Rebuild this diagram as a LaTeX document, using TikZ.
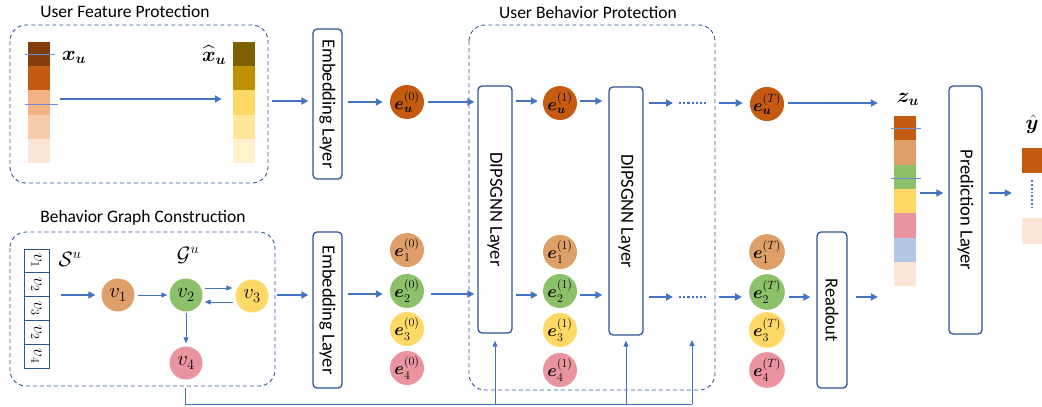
\documentclass[tikz,border=0pt]{standalone}
\usepackage{amsmath}
\usepackage{bm}
\usepackage{fontspec}
\setmainfont{Carlito}
\usetikzlibrary{arrows.meta}
\definecolor{ablue}{HTML}{4472C4}
\definecolor{dblue}{HTML}{2F5597}
\definecolor{tblue}{HTML}{6A8FD2}
\definecolor{ca}{HTML}{843C0C}
\definecolor{cb}{HTML}{C55A11}
\definecolor{cc}{HTML}{F4B183}
\definecolor{cd}{HTML}{F8CBAD}
\definecolor{ce}{HTML}{FBE5D6}
\definecolor{ha}{HTML}{7F6000}
\definecolor{hb}{HTML}{BF9000}
\definecolor{hc}{HTML}{FFD966}
\definecolor{hd}{HTML}{FFE699}
\definecolor{he}{HTML}{FFF2CC}
\definecolor{vor}{HTML}{DF9F68}
\definecolor{vgr}{HTML}{8CC16A}
\definecolor{vye}{HTML}{FFD966}
\definecolor{vpk}{HTML}{EA949F}
\definecolor{vbl}{HTML}{B4C7E7}
\newcommand{\lyrtxt}[1]{\rotatebox{-90}{\fontsize{18.5}{20}\selectfont #1}}
\begin{document}
\begin{tikzpicture}[x=1pt,y=-1pt,
  arr/.style={-{Triangle[length=7pt,width=7pt]}, line width=1.8pt, draw=ablue},
  tarr/.style={-{Triangle[length=6pt,width=5pt]}, line width=1pt, draw=ablue},
  dots/.style={line width=2.2pt, draw=ablue, dash pattern=on 2.2pt off 2pt},
  dbox/.style={draw=dblue, dashed, rounded corners=16pt, line width=0.9pt, dash pattern=on 4pt off 3pt},
  layerbox/.style={draw=dblue, rounded corners=4pt, line width=1.3pt, fill=white, inner sep=0pt},
  ttl/.style={font=\fontsize{17.5}{20}\selectfont},
  circ/.style={circle, minimum size=34pt, inner sep=0pt, font=\fontsize{17.28}{17}\selectfont},
  vc/.style={circle, minimum size=33pt, inner sep=0pt, font=\fontsize{20.74}{21}\selectfont},
  bar/.style={inner sep=0pt, minimum width=22pt},
  cell/.style={draw=dblue, line width=1pt, minimum width=25pt, minimum height=23.8pt, inner sep=0pt, font=\fontsize{17.28}{17}\selectfont},
  thinl/.style={draw=tblue, line width=0.8pt},
  mlab/.style={inner sep=1pt, font=\fontsize{20.74}{21}\selectfont}
]
\useasboundingbox (0,0) rectangle (1042,407);

% ---------- dashed group boxes ----------
\draw[dbox] (10,25) rectangle (268,183);
\node[ttl] (t1) at (125,12) {User Feature Protection};
\draw[dbox] (10,232) rectangle (275,386);
\node[ttl] (t2) at (143,218) {Behavior Graph Construction};
\draw[dbox] (469,25) rectangle (715,390);
\node[ttl] (t3) at (588,12) {User Behavior Protection};

% ---------- user feature bars ----------
\node[bar, minimum height=121pt] (xu) at (39,102.5) {};
\foreach \c [count=\i from 0] in {ca,cb,cc,cd,ce}
  \fill[\c] (28,{42+24.2*\i}) rectangle ++(22,24.2);
\draw[thinl] (25,54) -- (55,54);
\draw[thinl] (25,104) -- (58,104);
\node[mlab] (xul) at (74,57) {$\bm{x}_{\bm{u}}$};

\node[bar, minimum height=121pt] (xh) at (244,102.5) {};
\foreach \c [count=\i from 0] in {ha,hb,hc,hd,he}
  \fill[\c] (233,{42+24.2*\i}) rectangle ++(22,24.2);
\node[mlab] (xhl) at (214,55) {$\widehat{\bm{x}}_{\bm{u}}$};

\draw[arr] ([xshift=10pt]xu.east|-0,99) -- ([xshift=-11pt]xh.west|-0,99);

% ---------- embedding layers ----------
\node[layerbox, minimum width=29pt, minimum height=150pt] (emb1) at (327.5,104) {\lyrtxt{Embedding Layer}};
\node[layerbox, minimum width=29pt, minimum height=156pt] (emb2) at (327.5,310) {\lyrtxt{Embedding Layer}};
\draw[arr] (272,101) -- ([xshift=-4pt]emb1.west|-0,101);

% ---------- graph construction ----------
\node[cell] (s1) at (36.5,261) {\rotatebox{-90}{$v_1$}};
\node[cell] (s2) at (36.5,284.8) {\rotatebox{-90}{$v_2$}};
\node[cell] (s3) at (36.5,308.6) {\rotatebox{-90}{$v_3$}};
\node[cell] (s4) at (36.5,332.4) {\rotatebox{-90}{$v_2$}};
\node[cell] (s5) at (36.5,356.2) {\rotatebox{-90}{$v_4$}};
\node[mlab] (sl) at (70,259) {$\mathcal{S}^u$};
\node[mlab] (gl) at (188,255) {$\mathcal{G}^u$};

\node[vc, fill=vor] (v1) at (118,295) {$v_1$};
\node[vc, fill=vgr] (v2) at (186,295) {$v_2$};
\node[vc, fill=vye] (v3) at (252,296) {$v_3$};
\node[vc, fill=vpk] (v4) at (186,363) {$v_4$};

\draw[arr, line width=1.6pt] ([xshift=11pt]s3.east|-v1) -- ([xshift=-6pt]v1.west);
\draw[tarr] ([xshift=3pt]v1.east) -- ([xshift=-2pt]v2.west);
\draw[tarr] ([xshift=2pt,yshift=7pt]v2.east) -- ([xshift=-3pt]v3.west|-0,288);
\draw[tarr] ([xshift=-2pt]v3.west|-0,302) -- ([xshift=2pt,yshift=-7pt]v2.east);
\draw[tarr] ([yshift=-1pt]v2.south) -- ([yshift=3pt]v4.north);

\draw[arr] (277,295) -- ([xshift=-4pt]emb2.west|-0,295);

% ---------- layer 0 embeddings ----------
\node[circ, fill=cb] (eu0) at (407,102) {$\bm{e}_{\bm{u}}^{(0)}$};
\node[circ, fill=vor] (e10) at (407,250) {$\bm{e}_{1}^{(0)}$};
\node[circ, fill=vgr] (e20) at (407,291) {$\bm{e}_{2}^{(0)}$};
\node[circ, fill=vye] (e30) at (407,329) {$\bm{e}_{3}^{(0)}$};
\node[circ, fill=vpk] (e40) at (407,368) {$\bm{e}_{4}^{(0)}$};

\draw[arr] ([xshift=5pt]emb1.east|-eu0) -- ([xshift=-7pt]eu0.west);
\draw[arr] ([xshift=5pt]emb2.east|-0,294) -- ([xshift=-7pt]e20.west|-0,294);

% ---------- DIPSGNN layers ----------
\node[layerbox, minimum width=34pt, minimum height=247pt] (g1) at (495,209.5) {\lyrtxt{DIPSGNN Layer}};
\node[layerbox, minimum width=34pt, minimum height=248pt] (g2) at (626,211) {\lyrtxt{DIPSGNN Layer}};

\draw[arr] ([xshift=4pt]eu0.east) -- ([xshift=-3pt]g1.west|-eu0);
\draw[arr] ([xshift=7pt]e20.east|-0,294) -- ([xshift=-3pt]g1.west|-0,294);

\node[circ, fill=cb] (eu1) at (560,103) {$\bm{e}_{\bm{u}}^{(1)}$};
\node[circ, fill=vor] (e11) at (560,252) {$\bm{e}_{1}^{(1)}$};
\node[circ, fill=vgr] (e21) at (560,291) {$\bm{e}_{2}^{(1)}$};
\node[circ, fill=vye] (e31) at (560,330) {$\bm{e}_{3}^{(1)}$};
\node[circ, fill=vpk] (e41) at (560,370) {$\bm{e}_{4}^{(1)}$};

\draw[arr] ([xshift=3pt]g1.east|-0,101) -- ([xshift=-5pt]eu1.west|-0,101);
\draw[arr] ([xshift=3pt]g1.east|-0,295) -- ([xshift=-5pt]e21.west|-0,295);
\draw[arr] ([xshift=3pt]eu1.east|-0,101) -- ([xshift=-6pt]g2.west|-0,101);
\draw[arr] ([xshift=3pt]e21.east|-0,295) -- ([xshift=-6pt]g2.west|-0,295);

% ---------- after layer 2 ----------
\coordinate (d1) at (679,103);
\coordinate (d2) at (708,103);
\coordinate (d3) at (679,297);
\coordinate (d4) at (708,297);
\draw[arr] ([xshift=5pt]g2.east|-d1) -- ([xshift=-6pt]d1);
\draw[dots] (d1) -- (d2);
\draw[arr] ([xshift=5pt]g2.east|-d3) -- ([xshift=-6pt]d3);
\draw[dots] (d3) -- (d4);

\node[circ, fill=cb] (euT) at (767,104) {$\bm{e}_{\bm{u}}^{(T)}$};
\node[circ, fill=vor] (e1T) at (767,252) {$\bm{e}_{1}^{(T)}$};
\node[circ, fill=vgr] (e2T) at (767,292) {$\bm{e}_{2}^{(T)}$};
\node[circ, fill=vye] (e3T) at (767,330) {$\bm{e}_{3}^{(T)}$};
\node[circ, fill=vpk] (e4T) at (767,370) {$\bm{e}_{4}^{(T)}$};

\draw[arr] ([xshift=11pt]d2) -- ([xshift=-7pt]euT.west|-d2);
\draw[arr] ([xshift=11pt]d4) -- ([xshift=-7pt]e2T.west|-d4);

% ---------- readout ----------
\node[layerbox, minimum width=30pt, minimum height=156pt] (ro) at (832,310) {\lyrtxt{Readout}};
\draw[arr] ([xshift=4pt]e2T.east|-d4) -- ([xshift=-6pt]ro.west|-d4);

% ---------- z_u ----------
\node[bar, minimum height=170pt] (zu) at (905,201) {};
\foreach \c [count=\i from 0] in {cb,vor,vgr,vye,vpk,vbl,ce}
  \fill[\c] (894,{116+24.3*\i}) rectangle ++(22,24.3);
\draw[thinl] (891,128) -- (921,128);
\draw[thinl] (891,178) -- (921,178);
\node[mlab] (zul) at (908,99) {$\bm{z}_{\bm{u}}$};

\draw[arr] ([xshift=4pt]euT.east|-0,103) -- ([xshift=-16pt]zu.west|-0,103);
\draw[arr] ([xshift=8pt]ro.east|-d4) -- ([xshift=-16pt]zu.west|-d4);

% ---------- prediction ----------
\node[layerbox, minimum width=33pt, minimum height=248pt] (pl) at (965.5,210) {\lyrtxt{Prediction Layer}};
\draw[arr] ([xshift=4pt]zu.east|-0,193) -- ([xshift=-5pt]pl.west|-0,193);

\node[inner sep=0pt, minimum width=20pt, minimum height=25pt, fill=cb] (ya) at (1032,160.5) {};
\node[inner sep=0pt, minimum width=20pt, minimum height=26pt, fill=ce] (yb) at (1032,231) {};
\node[mlab] (yl) at (1032,124) {$\hat{\bm{y}}$};
\draw[dots, line width=1.8pt, dash pattern=on 1.8pt off 2pt] ([yshift=-7pt]ya.south) -- ([yshift=10pt]yb.north);
\draw[arr] ([xshift=6pt]pl.east|-0,193) -- ([xshift=-10pt]ya.west|-0,193);

% ---------- feedback line ----------
\coordinate (fb0) at (185,388);
\coordinate (fb1) at (185,404);
\coordinate (fb2) at (692,404);
\draw[ablue, line width=1pt] (fb0) -- (fb1) -- (fb2);
\draw[tarr] (g1.south|-fb1) -- ([yshift=-7pt]g1.south);
\draw[tarr] (g2.south|-fb1) -- ([yshift=-5pt]g2.south);
\draw[tarr] (fb2) -- (692,340);
\end{tikzpicture}
\end{document}
